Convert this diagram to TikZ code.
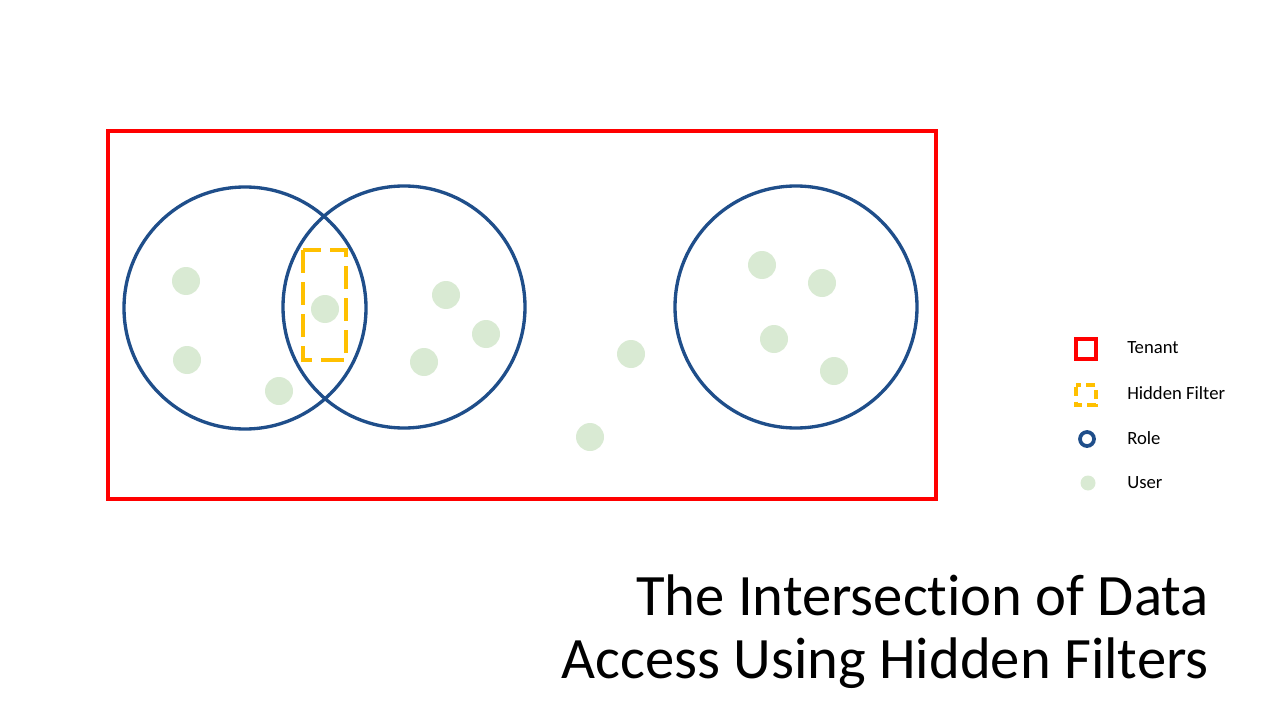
\documentclass[tikz,border=0pt]{standalone}
\usepackage{fontspec}
\setmainfont[Ligatures=NoCommon]{Carlito}
\definecolor{tenantred}{HTML}{FF0000}
\definecolor{roleblue}{HTML}{1F4E8A}
\definecolor{usergreen}{HTML}{D9EAD3}
\definecolor{filteryellow}{HTML}{FFC000}
\begin{document}
\begin{tikzpicture}[
    x=0.75pt,y=-0.75pt,
    tenant/.style={draw=tenantred,line width=2.4pt},
    filter/.style={draw=filteryellow,line width=2.6pt,dash pattern=on 17pt off 7pt},
    role/.style={draw=roleblue,line width=2.5pt},
    user/.style={fill=usergreen},
    legend/.style={anchor=west,font=\fontsize{14}{16}\selectfont,inner sep=0pt}
]
\useasboundingbox (0,0) rectangle (1280,720);
% tenant and roles
\draw[tenant] (108,131) rectangle (936,499);
\fill[user] (325,309) circle (14);
\draw[filter] (303,250) rectangle (346,360);
\draw[role] (245,308) circle (121);
\draw[role] (404,307) circle (121);
\draw[role] (796,307) circle (121);
% users
\foreach \ux/\uy in {186/281,187/360,279/391,446/295,486/334,424/362,
    631/354,590/437,762/265,822/283,774/339,834/371}
    \fill[user] (\ux,\uy) circle (14);

% legend
\draw[tenant,line width=2.8pt] (1076,339) rectangle (1096,359);
\draw[filter,line width=2.8pt,dash pattern=on 7pt off 4pt,dash phase=-1.5pt] (1076,385) rectangle (1096,405);
\draw[role,line width=2.8pt] (1087,439) circle (7);
\fill[user] (1088,483) circle (7.5);
\node[legend] (tenantlbl) at (1127,348) {Tenant};
\node[legend] (filterlbl) at (1127,393) {Hidden Filter};
\node[legend] (rolelbl) at (1127,438) {Role};
\node[legend] (userlbl) at (1127,483) {User};

% title
\node[anchor=base east,inner sep=0pt,font=\fontsize{44}{52}\selectfont] (title1) at (1209,615) {The Intersection of Data};
\node[anchor=base east,inner sep=0pt,font=\fontsize{44}{52}\selectfont] (title2) at (1209,678) {Access Using Hidden Filters};
\end{tikzpicture}
\end{document}
